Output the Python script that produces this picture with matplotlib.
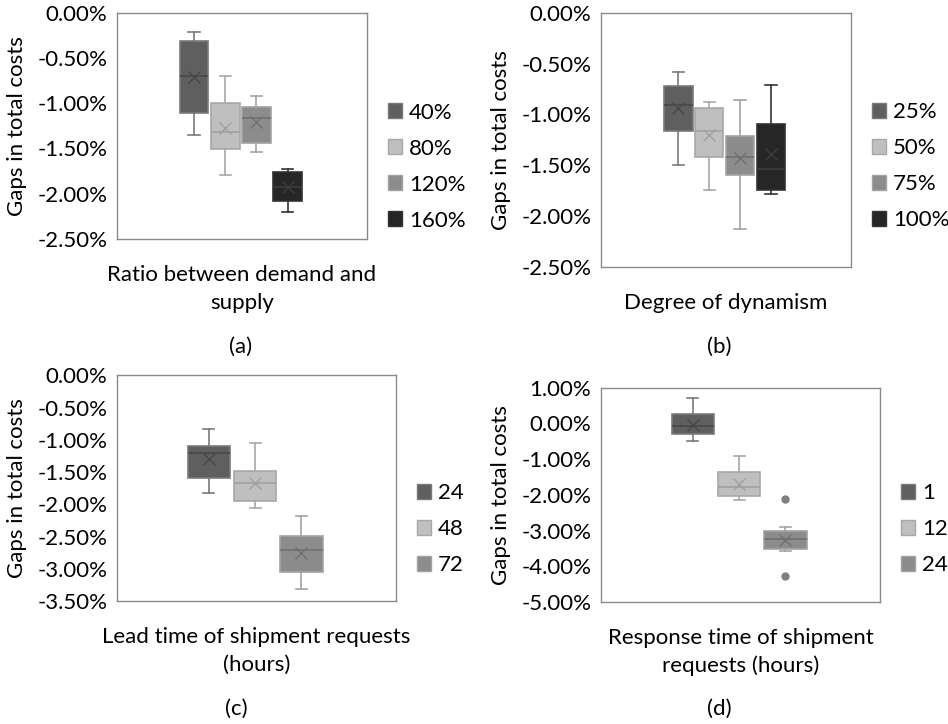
import matplotlib
matplotlib.use("Agg")
import matplotlib.pyplot as plt
from matplotlib.patches import Patch
from matplotlib.ticker import FuncFormatter, MultipleLocator

plt.rcParams['font.family'] = ['Lato', 'DejaVu Sans']

# ---------------- data (values in %) ----------------
# (a) Ratio between demand and supply
a_labels = ["40%", "80%", "120%", "160%"]
a_whislo = [-1.355, -1.79, -1.54, -2.20]
a_q1     = [-1.11, -1.505, -1.435, -2.085]
a_med    = [-0.70, -1.315, -1.16, -1.93]
a_q3     = [-0.31, -1.00, -1.045, -1.765]
a_whishi = [-0.21, -0.70, -0.925, -1.73]
a_mean   = [-0.705, -1.275, -1.21, -1.93]
a_fliers = [[], [], [], []]

# (b) Degree of dynamism
b_labels = ["25%", "50%", "75%", "100%"]
b_whislo = [-1.50, -1.745, -2.125, -1.78]
b_q1     = [-1.16, -1.415, -1.60, -1.74]
b_med    = [-0.905, -1.165, -1.42, -1.54]
b_q3     = [-0.72, -0.94, -1.215, -1.095]
b_whishi = [-0.58, -0.88, -0.855, -0.71]
b_mean   = [-0.94, -1.205, -1.43, -1.39]
b_fliers = [[], [], [], []]

# (c) Lead time of shipment requests (hours)
c_labels = ["24", "48", "72"]
c_whislo = [-1.82, -2.06, -3.31]
c_q1     = [-1.59, -1.95, -3.055]
c_med    = [-1.21, -1.67, -2.705]
c_q3     = [-1.09, -1.48, -2.485]
c_whishi = [-0.84, -1.05, -2.185]
c_mean   = [-1.295, -1.665, -2.75]
c_fliers = [[], [], []]

# (d) Response time of shipment requests (hours)
d_labels = ["1", "12", "24"]
d_whislo = [-0.49, -2.135, -3.58]
d_q1     = [-0.285, -2.04, -3.515]
d_med    = [-0.08, -1.78, -3.245]
d_q3     = [0.27, -1.37, -3.02]
d_whishi = [0.70, -0.905, -2.91]
d_mean   = [-0.035, -1.685, -3.255]
d_fliers = [[], [], [-2.105, -4.27]]

# ---------------- styles ----------------
FILL   = ["#5f5f5f", "#bfbfbf", "#8c8c8c", "#262626"]
EDGE   = ["#7a7a7a", "#a8a8a8", "#a3a3a3", "#333333"]
MEDC   = ["#474747", "#a0a0a0", "#707070", "#3c3c3c"]
FS = 16

fig = plt.figure(figsize=(9.48, 7.24), dpi=100)

panels = [
    dict(rect=[117/948, 1-239/724, 250/948, 226.3/724], labels=a_labels,
         lo=a_whislo, q1=a_q1, med=a_med, q3=a_q3, hi=a_whishi, mean=a_mean, fl=a_fliers,
         ylim=(-2.5, 0.0), step=0.5, spacing=0.125, width=0.115, cap=0.045,
         xlabel="Ratio between demand and\nsupply", ylx=-0.40, leg_y=0.32,
         leg_x=(388-117)/250, cap_txt="(a)", cap_xy=(241/948, 1-347/724)),
    dict(rect=[601/948, 1-267/724, 249.7/948, 254.3/724], labels=b_labels,
         lo=b_whislo, q1=b_q1, med=b_med, q3=b_q3, hi=b_whishi, mean=b_mean, fl=b_fliers,
         ylim=(-2.5, 0.0), step=0.5, spacing=0.124, width=0.115, cap=0.045,
         xlabel="Degree of dynamism", ylx=-0.40, leg_y=(267-166.5)/254.3,
         leg_x=(872-601)/249.7, cap_txt="(b)", cap_xy=(719/948, 1-347/724)),
    dict(rect=[117/948, 1-601/724, 279/948, 225.7/724], labels=c_labels,
         lo=c_whislo, q1=c_q1, med=c_med, q3=c_q3, hi=c_whishi, mean=c_mean, fl=c_fliers,
         ylim=(-3.5, 0.0), step=0.5, spacing=0.166, width=0.152, cap=0.04,
         xlabel="Lead time of shipment requests\n(hours)", ylx=-0.358, leg_y=(601-529)/225.7,
         leg_x=(417-117)/279, cap_txt="(c)", cap_xy=(236/948, 1-709/724)),
    dict(rect=[601/948, 1-602/724, 279/948, 214.3/724], labels=d_labels,
         lo=d_whislo, q1=d_q1, med=d_med, q3=d_q3, hi=d_whishi, mean=d_mean, fl=d_fliers,
         ylim=(-5.0, 1.0), step=1.0, spacing=0.166, width=0.152, cap=0.04,
         xlabel="Response time of shipment\nrequests (hours)", ylx=-0.358, leg_y=(602-529)/214.3,
         leg_x=(901-601)/279, cap_txt="(d)", cap_xy=(719/948, 1-709/724)),
]

for p in panels:
    ax = fig.add_axes(p["rect"])
    n = len(p["labels"])
    stats = []
    for i in range(n):
        stats.append(dict(label=p["labels"][i], whislo=p["lo"][i], q1=p["q1"][i],
                          med=p["med"][i], q3=p["q3"][i], whishi=p["hi"][i],
                          mean=p["mean"][i], fliers=p["fl"][i]))
    positions = [0.495 + (i - (n - 1) / 2) * p["spacing"] for i in range(n)]
    res = ax.bxp(stats, positions=positions, widths=p["width"], patch_artist=True,
                 showmeans=True, capwidths=p["cap"], manage_ticks=False)
    for i in range(n):
        res["boxes"][i].set(facecolor=FILL[i], edgecolor=EDGE[i], linewidth=1.2, zorder=2)
        res["medians"][i].set(color=MEDC[i], linewidth=1.2, zorder=3)
        for w in res["whiskers"][2*i:2*i+2]:
            w.set(color=EDGE[i], linewidth=1.2, zorder=1)
        for c in res["caps"][2*i:2*i+2]:
            c.set(color=EDGE[i], linewidth=1.2, zorder=1)
        res["means"][i].set(marker="x", markersize=9, markeredgecolor=MEDC[i],
                            markeredgewidth=1.0, zorder=4)
        res["fliers"][i].set(marker="o", markersize=5, markerfacecolor="#808080",
                             markeredgecolor="#808080")
    ax.set_xlim(0, 1)
    ax.set_ylim(*p["ylim"])
    ax.yaxis.set_major_locator(MultipleLocator(p["step"]))
    ax.yaxis.set_major_formatter(FuncFormatter(lambda v, pos: f"{v:.2f}%"))
    ax.set_xticks([])
    ax.tick_params(axis="y", length=0, pad=7, labelsize=FS)
    for s in ax.spines.values():
        s.set_color("#8a8a8a")
        s.set_linewidth(1.0)
    ax.set_ylabel("Gaps in total costs", fontsize=FS, va="center")
    ax.yaxis.set_label_coords(p["ylx"], 0.5)
    ax.set_xlabel(p["xlabel"], fontsize=FS, labelpad=19, linespacing=1.45)
    handles = [Patch(facecolor=FILL[i], edgecolor=EDGE[i], linewidth=1.0) for i in range(n)]
    ax.legend(handles, p["labels"], loc="center left", bbox_to_anchor=(p["leg_x"], p["leg_y"]),
              frameon=False, fontsize=FS, handlelength=0.65, handleheight=0.65,
              handletextpad=0.3, labelspacing=0.72, borderpad=0, borderaxespad=0)
    fig.text(p["cap_xy"][0], p["cap_xy"][1], p["cap_txt"], fontsize=FS, ha="center", va="center")

fig.savefig("out.png", dpi=100)
